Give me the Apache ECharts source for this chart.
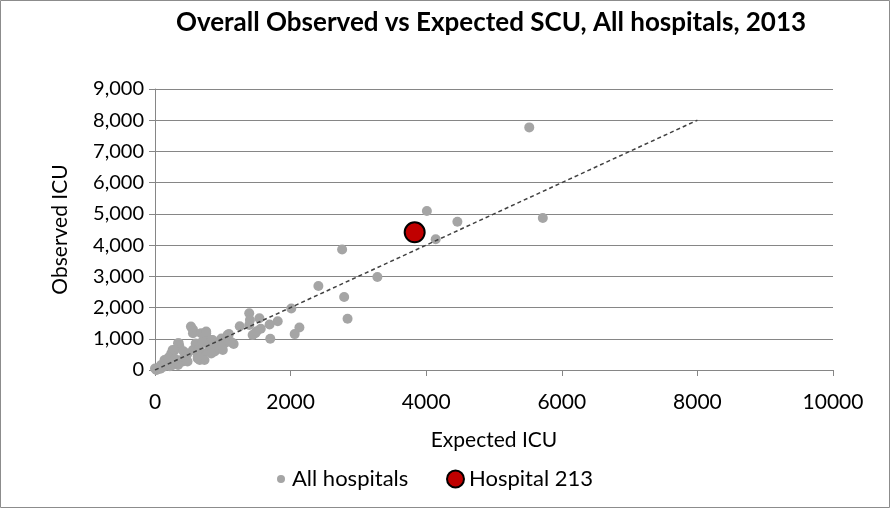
<!DOCTYPE html>
<html>
<head>
<meta charset="utf-8">
<script src="https://cdn.jsdelivr.net/npm/echarts@6/dist/echarts.min.js"></script>
<style>
html,body{margin:0;padding:0;background:#fff;}
#c{width:890px;height:508px;}
</style>
</head>
<body>
<div id="c"></div>
<script>
// Data (Expected ICU, Observed ICU)
const allHospitals = [
  [5520,7770],[5720,4870],[4010,5090],[4460,4750],[4140,4190],
  [2760,3860],[3280,2980],[2410,2690],[2790,2340],[2840,1640],
  [2010,1970],[2130,1360],[2060,1150],[1810,1560],[1690,1460],[1700,1000],
  [1390,1820],[1400,1600],[1540,1660],[1560,1320],[1480,1180],[1440,1120],[1250,1400],[1390,1440],[1500,1240],
  [1090,1150],[1040,980],[1160,830],[1120,900],[1070,1120],[980,1010],[1030,860],[950,750],[880,590],[800,640],[710,530],[660,320],[730,320],[630,370],
  [755,1180],[730,1010],[850,960],[780,980],[790,800],[830,530],[980,750],[1000,640],
  [560,1300],[560,1180],[530,1390],[680,1180],[755,1230],[830,960],[900,800],
  [350,860],[360,750],[340,860],[290,640],[240,530],[260,640],[240,480],
  [480,530],[560,640],[630,430],[460,430],[410,270],[390,320],[480,270],
  [165,320],[140,320],[90,160],[20,0],[0,50],[190,210],[340,160],[260,160],[120,100],[60,80],
  [200,400],[300,350],[420,600],[600,850],[650,700],[700,900],[30,20],[80,40],[150,150],[220,120]
];
const hospital213 = [[3830,4410]];
const refLine = [[0,0],[8000,8000]];
const xTicks = [0,2000,4000,6000,8000,10000];
const yTicks = [0,1000,2000,3000,4000,5000,6000,7000,8000,9000];

const FONT = 'Lato';
const chart = echarts.init(document.getElementById('c'));
chart.setOption({
  animation:false,
  textStyle:{fontFamily:FONT},
  graphic:[{type:'rect',shape:{x:0.5,y:0.5,width:889,height:507},
    style:{fill:null,stroke:'#8c8c8c',lineWidth:1},silent:true,z:-1}],
  title:{
    text:'Overall Observed vs Expected SCU, All hospitals, 2013',
    left:486, top:5, textAlign:'center',
    textStyle:{fontFamily:FONT,fontWeight:'bold',fontSize:26,color:'#000'}
  },
  legend:[
    {data:[{name:'All hospitals',icon:'circle'}], left:272, top:463, itemWidth:8, itemHeight:8, itemGap:4,
     textStyle:{fontFamily:FONT,fontSize:22,color:'#000',padding:[0,0,0,2]}},
    {data:[{name:'Hospital 213',icon:'circle'}], left:441, top:463, itemWidth:17, itemHeight:17, itemGap:4,
     textStyle:{fontFamily:FONT,fontSize:22,color:'#000',padding:[0,0,0,0]}}
  ],
  grid:{left:155,right:57,top:89,bottom:138,containLabel:false},
  xAxis:{
    type:'value', min:xTicks[0], max:xTicks[xTicks.length-1], interval:2000,
    name:'Expected ICU', nameLocation:'middle', nameGap:60,
    nameTextStyle:{fontFamily:FONT,fontSize:21,color:'#000'},
    axisLine:{show:true,lineStyle:{color:'#868686',width:1}},
    axisTick:{show:true,length:6,lineStyle:{color:'#868686'}},
    axisLabel:{fontFamily:FONT,fontSize:21,color:'#000',margin:22,formatter:v=>String(v)},
    splitLine:{show:false}
  },
  yAxis:{
    type:'value', min:yTicks[0], max:yTicks[yTicks.length-1], interval:1000,
    name:'Observed ICU', nameLocation:'middle', nameGap:84, nameRotate:90,
    nameTextStyle:{fontFamily:FONT,fontSize:21,color:'#000'},
    axisLine:{show:true,lineStyle:{color:'#868686',width:1}},
    axisTick:{show:true,length:6,lineStyle:{color:'#868686'}},
    axisLabel:{fontFamily:FONT,fontSize:20,color:'#000',margin:11,
      formatter:v=>v.toLocaleString('en-US')},
    splitLine:{show:true,lineStyle:{color:'#868686',width:1}}
  },
  series:[
    {name:'All hospitals',type:'scatter',data:allHospitals,symbol:'circle',symbolSize:10,
     itemStyle:{color:'#A5A5A5',opacity:1},z:3},
    {name:'Hospital 213',type:'scatter',data:hospital213,symbol:'circle',symbolSize:20,
     itemStyle:{color:'#C00000',borderColor:'#000',borderWidth:2,opacity:1},z:5},
    {name:'ref',type:'line',data:refLine,symbol:'none',silent:true,
     lineStyle:{color:'#404040',width:1.5,type:[4,3]},z:4}
  ]
});
</script>
</body>
</html>
